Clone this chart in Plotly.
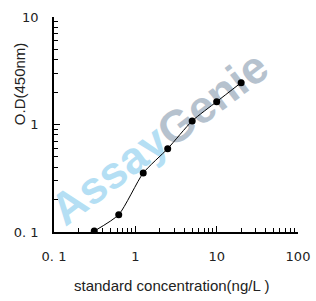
import plotly.graph_objects as go

conc = [0.3125, 0.625, 1.25, 2.5, 5, 10, 20]
od = [0.102, 0.145, 0.354, 0.596, 1.08, 1.63, 2.45]

x_tickvals = [0.1, 1, 10, 100]
x_ticktext = ["0. 1", "1", "10", "100"]
y_tickvals = [0.1, 1, 10]
y_ticktext = ["0. 1", "1", "10"]

fig = go.Figure()
fig.add_trace(go.Scatter(
    x=conc, y=od, mode="lines+markers",
    line=dict(color="black", width=1, shape="spline", smoothing=0.6),
    marker=dict(color="black", size=7),
    showlegend=False,
))

tickfont = dict(family="DejaVu Sans, sans-serif", size=13, color="#222")
fig.update_xaxes(
    type="log", range=[-1, 2], showgrid=False, zeroline=False, automargin=False,
    showline=True, linecolor="black", linewidth=1.5,
    tickvals=x_tickvals, ticktext=x_ticktext, ticks="inside", ticklen=6,
    tickcolor="black", tickfont=tickfont, ticklabelstandoff=12,
    minor=dict(ticks="inside", ticklen=4, tickcolor="black", dtick="D1", showgrid=False),
)
fig.update_yaxes(
    type="log", range=[-1, 1], showgrid=False, zeroline=False, automargin=False,
    showline=True, linecolor="black", linewidth=1.5,
    tickvals=y_tickvals, ticktext=y_ticktext, ticks="inside", ticklen=6,
    tickcolor="black", tickfont=tickfont, ticklabelstandoff=11,
    minor=dict(ticks="inside", ticklen=4, tickcolor="black", dtick="D1", showgrid=False),
)

titlefont = dict(family="Liberation Sans, Arial", size=15, color="#222")
fig.add_annotation(xref="paper", yref="paper", x=0.48, y=-0.247, showarrow=False,
                   xanchor="center", yanchor="middle",
                   text="standard concentration(ng/L )", font=titlefont)
fig.add_annotation(xref="paper", yref="paper", x=-0.143, y=0.688, showarrow=False,
                   xanchor="center", yanchor="middle",
                   text="O.D(450nm)", textangle=-90, font=titlefont)

wm_font = dict(family="Liberation Sans, Arial", size=45, weight="bold")
for word, color, cx, cy in [("Assay", "#b5dff4", 0.215, 0.28), ("Genie", "#b6c2ce", 0.64, 0.635)]:
    fig.add_shape(
        type="rect", xref="paper", yref="paper",
        x0=cx - 0.01, x1=cx + 0.01, y0=cy - 0.01, y1=cy + 0.01,
        line=dict(width=0, color="rgba(0,0,0,0)"), fillcolor="rgba(0,0,0,0)",
        layer="below",
        label=dict(text=word, textangle=-37, textposition="middle center",
                   font=dict(color=color, **wm_font)),
    )

fig.update_layout(
    width=316, height=301,
    margin=dict(l=54, r=18, t=17, b=69),
    plot_bgcolor="white", paper_bgcolor="white",
)
fig.write_html("out.html")
